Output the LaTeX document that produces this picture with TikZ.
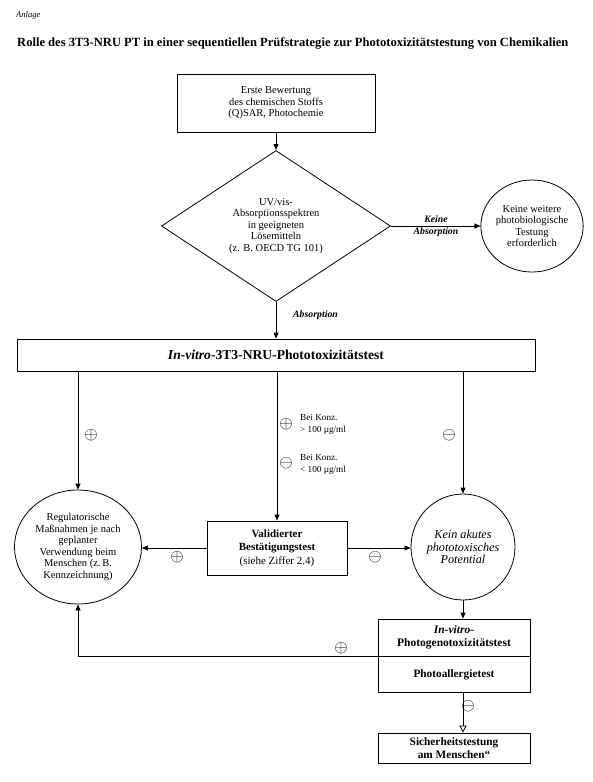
\documentclass[tikz,border=0pt]{standalone}
\usepackage{fontspec}
\setmainfont{Liberation Serif}
\usetikzlibrary{shapes.geometric,arrows.meta}
\begin{document}
\begin{tikzpicture}[x=1pt,y=-1pt,
  box/.style={draw,line width=0.8pt,rectangle,inner sep=0pt,align=center,font=\fontsize{10.5}{11.6}\selectfont},
  rnd/.style={draw,line width=0.8pt,ellipse,inner sep=0pt,align=center,font=\fontsize{10.5}{11.6}\selectfont},
  arr/.style={line width=0.8pt,-{Triangle[length=6pt,width=5pt]}},
  oarr/.style={line width=0.8pt,-{Triangle[open,length=7pt,width=7pt,fill=white]}},
  lab/.style={font=\bfseries\itshape\fontsize{9.8}{12}\selectfont,inner sep=0pt,align=center},
  sgn/.style={font=\fontsize{16}{16}\selectfont,inner sep=0pt},
  small/.style={font=\fontsize{9.2}{10}\selectfont,inner sep=0pt,anchor=west}
]
\useasboundingbox (0,0) rectangle (592,782);
\fill[white] (0,0) rectangle (592,782);

\node[anchor=west,inner sep=0pt,font=\itshape\fontsize{8.5}{9}\selectfont] (anl) at (16,15) {Anlage};
\node[anchor=west,inner sep=0pt,font=\bfseries\fontsize{12.55}{14}\selectfont] (title) at (17,43)
  {Rolle des 3T3-NRU PT in einer sequentiellen Prüfstrategie zur Phototoxizitätstestung von Chemikalien};

\node[box,minimum width=198pt,minimum height=58pt] (b1) at (276,103)
  {Erste Bewertung\\des chemischen Stoffs\\(Q)SAR, Photochemie};

\node[draw,line width=0.8pt,diamond,aspect=1.5,inner sep=0pt,minimum width=229pt,minimum height=151pt,
  align=center,font=\fontsize{10.5}{11.6}\selectfont] (dia) at (276,226)
  {UV/vis-\\Absorptionsspektren\\in geeigneten\\Lösemitteln\\(z. B. OECD TG 101)};

\node[rnd,minimum width=95pt,minimum height=92pt] (c1) at (532,226)
  {Keine weitere\\photobiologische\\Testung\\erforderlich};

\node[box,minimum width=518pt,minimum height=32pt,font=\bfseries\fontsize{13.6}{14}\selectfont] (mb) at (276,355)
  {\textit{In-vitro}-3T3-NRU-Phototoxizitätstest};

\node[rnd,minimum width=127pt,minimum height=114pt] (rl) at (78,547)
  {Regulatorische\\Maßnahmen je nach\\geplanter\\Verwendung beim\\Menschen (z.\,B.\\Kennzeichnung)};

\node[box,minimum width=140pt,minimum height=54pt,font=\fontsize{11}{13.5}\selectfont] (val) at (277,548)
  {\textbf{Validierter}\\\textbf{Bestätigungstest}\\(siehe Ziffer 2.4)};

\node[rnd,minimum width=104pt,minimum height=106pt,font=\itshape\fontsize{12.2}{12.8}\selectfont] (rc) at (463,547)
  {Kein akutes\\phototoxisches\\Potential};

\node[box,minimum width=152pt,minimum height=37pt,font=\bfseries\fontsize{11.5}{12.5}\selectfont] (pg) at (454,637.5)
  {\textit{In-vitro-}\\Photogenotoxizitätstest};
\node[box,minimum width=152pt,minimum height=36pt,font=\bfseries\fontsize{11.3}{12.5}\selectfont,anchor=north] (pa) at (pg.south)
  {Photoallergietest};
\node[box,minimum width=152pt,minimum height=30pt,font=\bfseries\fontsize{11.3}{12.5}\selectfont] (sh) at (454,748)
  {Sicherheitstestung\\am Menschen“};

% connectors
\draw[arr] (b1.south) -- (dia.north);
\draw[arr] (dia.east) -- (c1.west);
\draw[arr] (dia.south) -- (mb.north);
\draw[arr] (mb.south -| rl.north) -- (rl.north);
\draw[arr] (mb.south -| val.north) -- (val.north);
\draw[arr] (mb.south -| rc.north) -- (rc.north);
\draw[arr] (val.west) -- (rl.east |- val.west);
\draw[arr] (val.east) -- (rc.west |- val.east);
\draw[arr] (rc.south) -- (rc.south |- pg.north);
\draw[arr] (pg.south west) -| (rl.south);
\draw[oarr] (pa.south -| rc.south) -- (sh.north -| rc.south);

% labels
\node[lab] (lkeine) at (436,226) {Keine\\Absorption};
\node[lab,anchor=west] (labs) at (293,315) {Absorption};
\node[sgn] (s1) at (91,435) {$\oplus$};
\node[sgn] (s2) at (449,435) {$\ominus$};
\node[sgn] (s3) at (286,424) {$\oplus$};
\node[small] (t3a) at (300,417.5) {Bei Konz.};
\node[small] (t3b) at (300,430.5) {> 100 µg/ml};
\node[sgn] (s4) at (286,463) {$\ominus$};
\node[small] (t4a) at (300,457.5) {Bei Konz.};
\node[small] (t4b) at (300,470.5) {< 100 µg/ml};
\node[sgn] (s5) at (177,557) {$\oplus$};
\node[sgn] (s6) at (375,557) {$\ominus$};
\node[sgn] (s7) at (341,648) {$\oplus$};
\node[sgn] (s8) at (468,706) {$\ominus$};
\end{tikzpicture}
\end{document}
